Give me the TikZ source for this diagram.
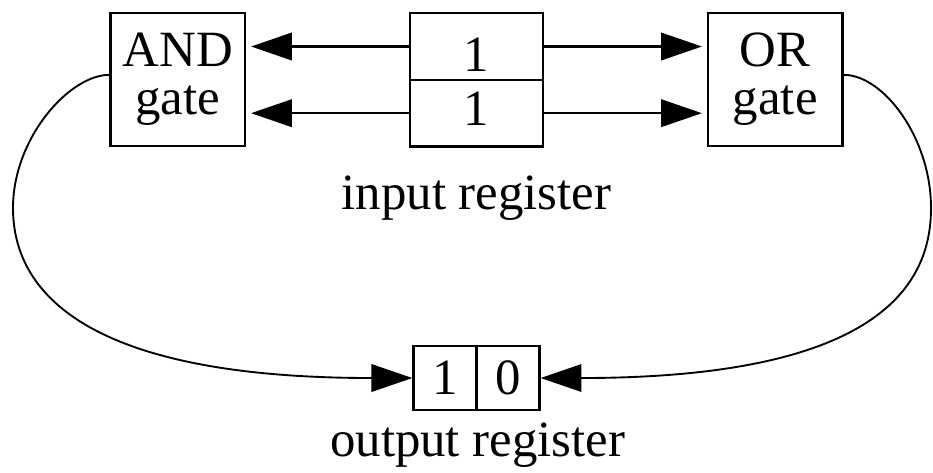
\documentclass[tikz,border=0pt]{standalone}
\usepackage{fontspec}
\setmainfont{Liberation Serif}
\usepackage{tikz}
\usetikzlibrary{arrows.meta}
\tikzset{>={Triangle[length=9.8pt,width=6.6pt]}}

\begin{document}
\begin{tikzpicture}[font=\fontsize{12.2}{11.5}\selectfont]
    \useasboundingbox (-114.36pt,11.16pt) rectangle (109.56pt,-102.12pt);
    % gates sit left/right of the input register, results loop back into the output register
    \tikzstyle{gate}=[draw, line width=0.6pt, minimum width=32.2pt, minimum height=31.9pt, inner sep=0pt, align=center]
    \tikzstyle{cell}=[draw, line width=0.6pt, minimum width=31.9pt, minimum height=16pt, inner sep=0pt]
    \tikzstyle{bit}=[draw, line width=0.6pt, minimum width=15.1pt, minimum height=15.4pt, inner sep=0pt]
    \tikzstyle{wire}=[->, line width=0.5pt]
    \node[cell, text height=12.1pt, text depth=0pt] (in1) at (0, 0) {1};
    \node[cell, text height=8.25pt, text depth=2.4pt] (in2) [below of = in1, node distance=16pt] {1};
    \node[gate] (and) [left of = in1, node distance=71.7pt, yshift=-7.9pt] {AND\\gate};
    \node[gate] (or) [right of = in1, node distance=71.7pt, yshift=-7.9pt] {OR\\gate};
    \node[anchor=base] (inlbl) at ([yshift=-14.8pt]in2.south) {input register};

    \draw[wire, shorten >=1.2pt] (in1.west) -- (in1.west -| and.east);
    \draw[wire, shorten >=1.2pt] (in2.west) -- (in2.west -| and.east);
    \draw[wire, shorten >=1.2pt] (in1.east) -- (in1.east -| or.west);
    \draw[wire, shorten >=1.2pt] (in2.east) -- (in2.east -| or.west);

    \node[bit] (out1) at (-7.56pt, -79.56pt) {1};
    \node[bit] (out2) [right of = out1, node distance=15.1pt] {0};
    \node[anchor=base] (outlbl) at ([yshift=-10.8pt]out1.south east) {output register};

    \coordinate (lbend) at (-111.24pt, -38.76pt);
    \coordinate (rbend) at (109.08pt, -38.76pt);
    \draw[wire, line width=0.45pt] ([yshift=1.1pt]and.west) to[out=180, in=90, out distance=9.6pt, in distance=16.8pt] (lbend)
        to[out=-90, in=180, out distance=18.2pt, in distance=81.6pt] (out1.west);
    \draw[wire, line width=0.45pt] ([yshift=1.1pt]or.east) to[out=0, in=90, out distance=9.6pt, in distance=16.8pt] (rbend)
        to[out=-90, in=0, out distance=18.2pt, in distance=81.6pt] (out2.east);
\end{tikzpicture}
\end{document}
